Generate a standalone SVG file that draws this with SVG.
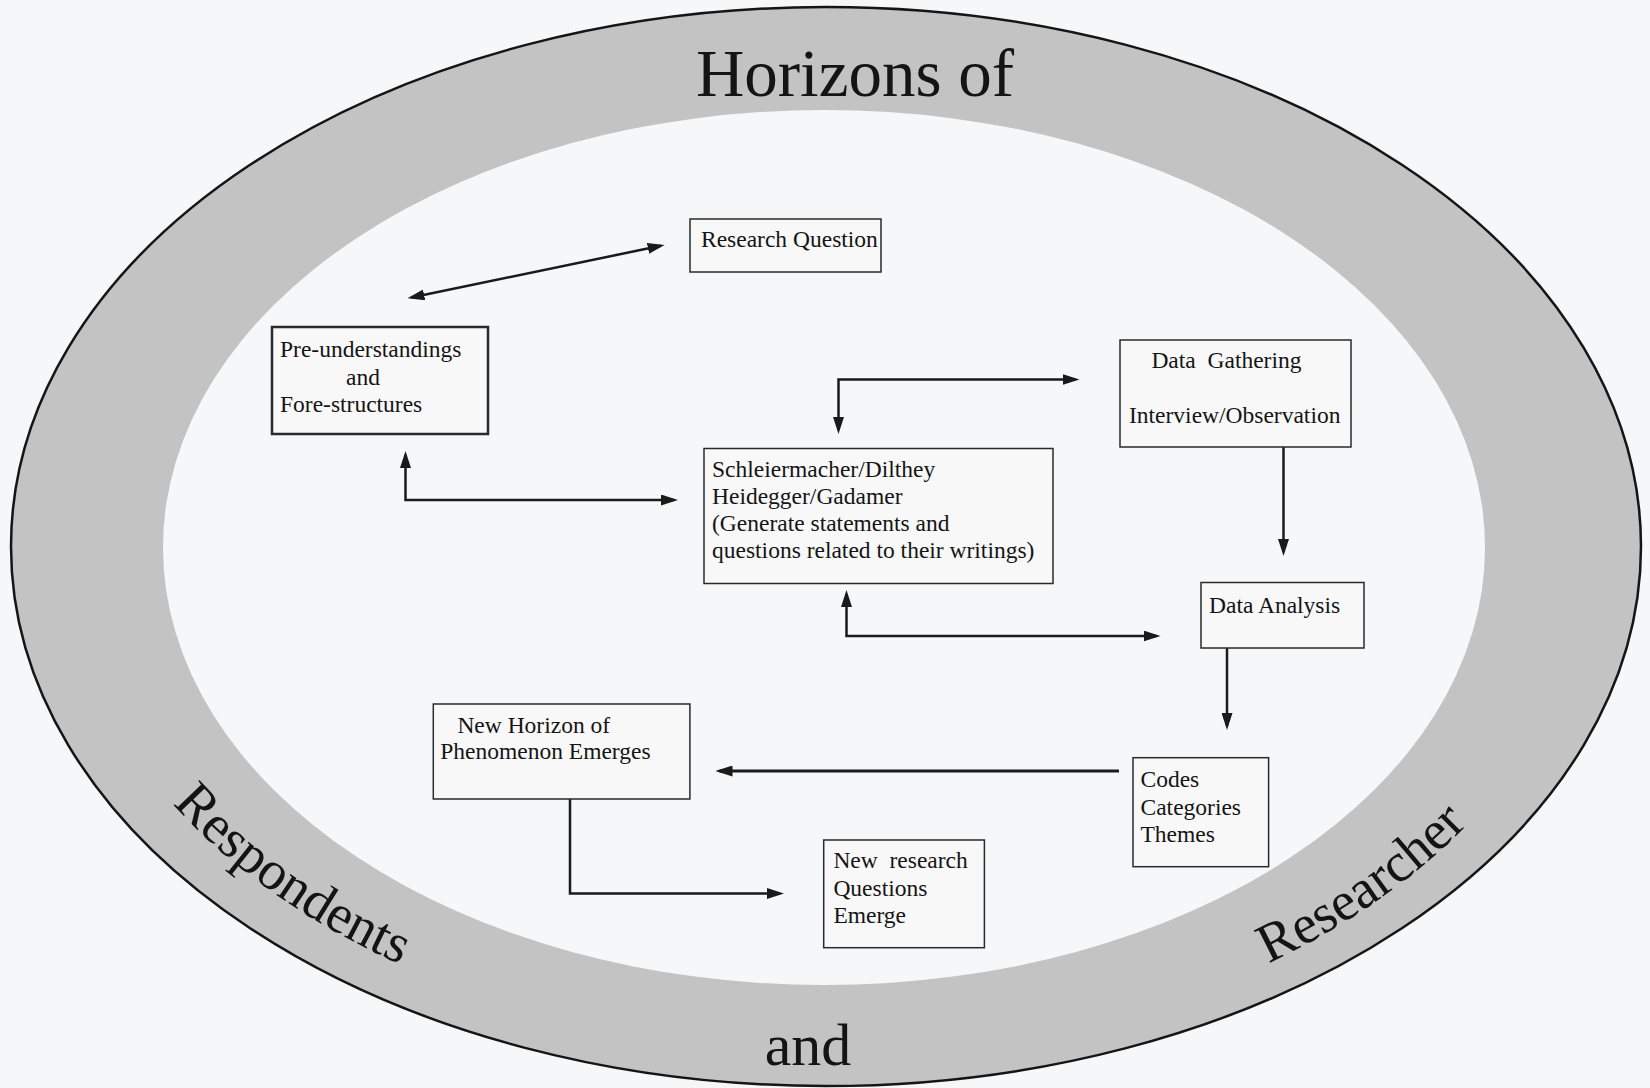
<svg xmlns="http://www.w3.org/2000/svg" width="1650" height="1088" viewBox="0 0 1650 1088">
<style>
.ringtext{font-family:"Liberation Serif","Times New Roman",serif;fill:#141414}
.box rect{fill:#f8f8f9;stroke:#2a2a2a;stroke-width:1.5}
.box text{font-family:"Liberation Serif","Times New Roman",serif;font-size:23.5px;fill:#141414}
.conn{fill:none;stroke:#1a1a1a;stroke-width:2.5}
.arr{marker-end:url(#ah)}
.arr2{marker-start:url(#ah);marker-end:url(#ah)}
</style>
<defs>
<marker id="ah" viewBox="0 0 17 11" markerWidth="17" markerHeight="11" refX="13" refY="5.5" orient="auto-start-reverse" markerUnits="userSpaceOnUse">
<path d="M0,0 L17,5.5 L0,11 z" fill="#1a1a1a"/>
</marker>
<path id="pResp" d="M134.7,755.2 A758,504 0 0 0 457.5,987.8"/>
<path id="pRes" d="M1192.4,995.2 A765,511 0 0 0 1520,760.5"/>
</defs>
<rect width="1650" height="1088" fill="#f6f7f8"/>
<g id="horizon-ring">
<ellipse cx="826" cy="546.5" rx="815" ry="539.5" fill="#c3c3c3" stroke="#151515" stroke-width="2.5"/>
<ellipse cx="824" cy="547.5" rx="661" ry="437.5" fill="#f6f7f8"/>
<text class="ringtext" x="855" y="96" font-size="67" text-anchor="middle">Horizons of</text>
<text class="ringtext" x="808" y="1065" font-size="60" text-anchor="middle">and</text>
<text class="ringtext" font-size="55"><textPath href="#pResp" startOffset="50%" text-anchor="middle">Respondents</textPath></text>
<text class="ringtext" font-size="55"><textPath href="#pRes" startOffset="50%" text-anchor="middle">Researcher</textPath></text>
</g>
<g id="connectors">
<path class="conn arr2" d="M411.4,297.5 L660.7,245.8"/>
<path class="conn arr2" d="M405.5,455 L405.5,500 L674,500"/>
<path class="conn arr2" d="M838.5,430 L838.5,379.5 L1075.5,379.5"/>
<path class="conn arr" d="M1283.5,447 L1283.5,552"/>
<path class="conn arr2" d="M846.5,594 L846.5,636 L1156.5,636"/>
<path class="conn arr" d="M1227,648 L1227,726"/>
<path class="conn arr" d="M1119,771 L719.5,771" style="stroke-width:3.2"/>
<path class="conn arr" d="M570,799 L570,893.5 L780,893.5"/>
</g>
<g id="research-question" class="box">
<rect x="690" y="219" width="191" height="53"/>
<text x="701" y="246.7">Research Question</text>
</g>
<g id="pre-understandings" class="box">
<rect x="272" y="327" width="216" height="107" style="stroke-width:2.5"/>
<text x="280" y="356.7">Pre-understandings</text>
<text x="346" y="385">and</text>
<text x="280" y="411.7">Fore-structures</text>
</g>
<g id="hermeneutic-philosophers" class="box">
<rect x="704" y="448.5" width="349" height="135"/>
<text x="712" y="476.7">Schleiermacher/Dilthey</text>
<text x="712" y="504.3">Heidegger/Gadamer</text>
<text x="712" y="530.7">(Generate statements and</text>
<text x="712" y="558.3">questions related to their writings)</text>
</g>
<g id="data-gathering" class="box">
<rect x="1120" y="340" width="231" height="107"/>
<text x="1151.4" y="368.3" xml:space="preserve">Data  Gathering</text>
<text x="1129" y="423.3">Interview/Observation</text>
</g>
<g id="data-analysis" class="box">
<rect x="1201" y="582.5" width="163" height="65.5"/>
<text x="1209" y="612.7">Data Analysis</text>
</g>
<g id="codes" class="box">
<rect x="1133" y="757.7" width="135.6" height="109"/>
<text x="1140.5" y="787.3">Codes</text>
<text x="1140.5" y="815">Categories</text>
<text x="1140.5" y="842.3">Themes</text>
</g>
<g id="new-horizon" class="box">
<rect x="433.3" y="704" width="256.6" height="95"/>
<text x="457.4" y="732.7">New Horizon of</text>
<text x="440.2" y="759.3">Phenomenon Emerges</text>
</g>
<g id="new-research-questions" class="box">
<rect x="823.7" y="840" width="160.7" height="107.7"/>
<text x="833.4" y="868.3" xml:space="preserve">New  research</text>
<text x="833.4" y="896">Questions</text>
<text x="833.4" y="922.7">Emerge</text>
</g>
</svg>
